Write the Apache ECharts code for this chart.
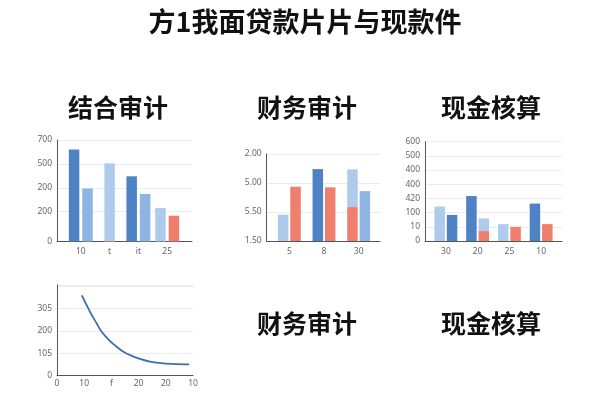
<!DOCTYPE html>
<html><head><meta charset="utf-8">
<script src="https://cdn.jsdelivr.net/npm/echarts@6/dist/echarts.min.js"></script>
<style>html,body{margin:0;padding:0;background:#fff}#c{width:600px;height:400px}</style>
</head><body><div id="c"></div>
<script>
// ---------- data ----------
const mainTitle = '方1我面贷款片片与现款件';
const panelTitles = ['结合审计', '财务审计', '现金核算', '财务审计', '现金核算'];

// Chart 1 (结合审计)
const c1Categories = ['10', 't', 'it', '25'];
const c1TickValues = [0, 1.25, 2.25, 3.25, 4.25];
const c1TickLabels = ['0', '200', '200', '500', '700'];
const c1Left = [3.85, null, 2.73, 1.40];
const c1Right = [2.22, null, 1.99, 1.08];
const c1Center = [null, 3.27, null, null];

// Chart 2 (财务审计)
const c2Categories = ['5', '8', '30'];
const c2TickLabels = ['1.50', '5.50', '5.00', '2.00'];
const c2LeftBase = [0.91, 2.48, 1.17];
const c2LeftTop = [null, null, 1.30];
const c2Right = [1.87, 1.85, 1.72];

// Chart 3 (现金核算)
const c3Categories = ['30', '20', '25', '10'];
const c3TickLabels = ['0', '10', '100', '420', '400', '400', '500', '600'];
const c3Left = [2.43, 3.17, 1.19, 2.64];
const c3RightBase = [1.84, 0.70, 1.00, 1.19];
const c3RightTop = [null, 0.89, null, null];

// Chart 4 (line)
const c4XLabels = ['0', '10', 'f', '20', '20', '10'];
const c4YLabels = ['0', '105', '200', '305'];
const c4X = [0.91, 1.09, 1.28, 1.46, 1.64, 1.95, 2.19, 2.44, 2.75, 3.05, 3.42, 3.91, 4.40, 4.86];
const c4Y = [3.59, 3.15, 2.70, 2.33, 1.96, 1.54, 1.29, 1.06, 0.88, 0.74, 0.62, 0.54, 0.51, 0.50];

// ---------- styles ----------
const LIGHT = '#aecbec', MID = '#8db4e2', DARK = '#4f82c5', RED = '#ef7e6c', LINE = '#3f6ea8';
const c1LeftColors = [DARK, null, DARK, LIGHT];
const c1RightColors = [MID, null, MID, RED];
const c1CenterColors = [null, LIGHT, null, null];
const c2LeftBaseColors = [LIGHT, DARK, RED];
const c2RightColors = [RED, RED, MID];
const c3LeftColors = [LIGHT, DARK, LIGHT, DARK];
const c3RightBaseColors = [DARK, RED, RED, RED];

const FONT = 'Noto Sans';
const CJK = 'Noto Sans CJK SC';
const AXIS_COLOR = '#555';
const GRID_COLOR = '#ececec';
const LABEL_COLOR = '#666';
const LABEL_SIZE = 8.5;

function colored(values, colors) {
  return values.map((v, i) => v == null ? null : { value: v, itemStyle: { color: colors[i] } });
}
function idxFormatter(labels) {
  return function (v) {
    const r = Math.round(v);
    return Math.abs(v - r) < 1e-6 && labels[r] !== undefined ? labels[r] : '';
  };
}

const grids = [
  { left: 57, right: 408, top: 140, bottom: 158.5 },
  { left: 66.4, right: 418.4, top: 140, bottom: 158.5 },
  { left: 266.7, right: 220, top: 154, bottom: 159 },
  { left: 272, right: 224, top: 154, bottom: 159 },
  { left: 425, right: 38, top: 141.7, bottom: 159 },
  { left: 430, right: 43, top: 141.7, bottom: 159 },
  { left: 57, right: 407, top: 285, bottom: 24.5 }
];

const lineAxis = { show: true, lineStyle: { color: AXIS_COLOR, width: 1 } };
function frameX(gi) {
  return { gridIndex: gi, type: 'category', data: [''], axisLine: lineAxis, axisTick: { show: false }, axisLabel: { show: false }, splitLine: { show: false } };
}
function catX(gi, cats, show) {
  return {
    gridIndex: gi, type: 'category', data: cats, show: show !== false,
    axisLine: { show: false }, axisTick: { show: false },
    axisLabel: { color: LABEL_COLOR, fontSize: LABEL_SIZE, fontFamily: FONT, margin: 6 }
  };
}
function hiddenY(gi, max) {
  return { gridIndex: gi, type: 'value', min: 0, max: max, show: false, splitLine: { show: false } };
}

const xAxes = [
  frameX(0),
  catX(1, c1Categories),
  catX(1, c1Categories, false),
  frameX(2),
  catX(3, c2Categories),
  frameX(4),
  catX(5, c3Categories),
  {
    gridIndex: 6, type: 'value', min: 0, max: 5, interval: 1,
    axisLine: lineAxis, axisTick: { show: false }, splitLine: { show: false },
    axisLabel: { color: LABEL_COLOR, fontSize: LABEL_SIZE, fontFamily: FONT, margin: 4, formatter: idxFormatter(c4XLabels) }
  }
];

const yAxes = [
  {
    gridIndex: 0, type: 'value', min: 0, max: 4.25,
    axisLine: lineAxis,
    axisTick: { show: false, customValues: c1TickValues },
    splitLine: { show: true, lineStyle: { color: GRID_COLOR } },
    axisLabel: { customValues: c1TickValues, color: LABEL_COLOR, fontSize: LABEL_SIZE, fontFamily: FONT, margin: 5,
      formatter: v => { const i = c1TickValues.findIndex(t => Math.abs(t - v) < 1e-6); return i >= 0 ? c1TickLabels[i] : ''; } }
  },
  hiddenY(1, 4.25),
  {
    gridIndex: 2, type: 'value', min: 0, max: 3, interval: 1,
    axisLine: lineAxis, axisTick: { show: false },
    splitLine: { show: true, lineStyle: { color: GRID_COLOR } },
    axisLabel: { color: LABEL_COLOR, fontSize: LABEL_SIZE, fontFamily: FONT, margin: 5, formatter: idxFormatter(c2TickLabels) }
  },
  hiddenY(3, 3),
  {
    gridIndex: 4, type: 'value', min: 0, max: 7, interval: 1,
    axisLine: lineAxis, axisTick: { show: false },
    splitLine: { show: true, lineStyle: { color: GRID_COLOR } },
    axisLabel: { color: LABEL_COLOR, fontSize: LABEL_SIZE, fontFamily: FONT, margin: 5, formatter: idxFormatter(c3TickLabels) }
  },
  hiddenY(5, 7),
  {
    gridIndex: 6, type: 'value', min: 0, max: 4.05, interval: 1,
    axisLine: lineAxis, axisTick: { show: false },
    splitLine: { show: true, lineStyle: { color: GRID_COLOR } },
    axisLabel: { color: LABEL_COLOR, fontSize: LABEL_SIZE, fontFamily: FONT, margin: 5, formatter: idxFormatter(c4YLabels) }
  }
];

const BW = 10.5;
const series = [
  { type: 'bar', xAxisIndex: 1, yAxisIndex: 1, data: colored(c1Left, c1LeftColors), barWidth: BW },
  { type: 'bar', xAxisIndex: 1, yAxisIndex: 1, data: colored(c1Right, c1RightColors), barWidth: BW, barGap: '28%' },
  { type: 'bar', xAxisIndex: 2, yAxisIndex: 1, data: colored(c1Center, c1CenterColors), barWidth: BW },
  { type: 'bar', xAxisIndex: 4, yAxisIndex: 3, stack: 'c2L', data: colored(c2LeftBase, c2LeftBaseColors), barWidth: BW },
  { type: 'bar', xAxisIndex: 4, yAxisIndex: 3, stack: 'c2L', data: c2LeftTop, itemStyle: { color: LIGHT }, barWidth: BW },
  { type: 'bar', xAxisIndex: 4, yAxisIndex: 3, data: colored(c2Right, c2RightColors), barWidth: BW, barGap: '18%' },
  { type: 'bar', xAxisIndex: 6, yAxisIndex: 5, data: colored(c3Left, c3LeftColors), barWidth: BW },
  { type: 'bar', xAxisIndex: 6, yAxisIndex: 5, stack: 'c3R', data: colored(c3RightBase, c3RightBaseColors), barWidth: BW },
  { type: 'bar', xAxisIndex: 6, yAxisIndex: 5, stack: 'c3R', data: c3RightTop, itemStyle: { color: LIGHT }, barWidth: BW, barGap: '18%' },
  { type: 'line', xAxisIndex: 7, yAxisIndex: 6, data: c4X.map((x, i) => [x, c4Y[i]]), smooth: 0.3, symbol: 'none',
    lineStyle: { color: LINE, width: 1.8 } }
];

function titleText(text, x, y, size) {
  return { type: 'text', x: x, y: y, silent: true,
    style: { text: text, fontSize: size, fontWeight: 'bold', fontFamily: CJK, fill: '#111', align: 'center', verticalAlign: 'middle' } };
}
const graphic = [
  titleText(mainTitle, 305, 22, 27),
  titleText(panelTitles[0], 118, 107, 25),
  titleText(panelTitles[1], 307, 107, 25),
  titleText(panelTitles[2], 491, 107, 25),
  titleText(panelTitles[3], 307, 323, 25),
  titleText(panelTitles[4], 491, 323, 25)
];

const chart = echarts.init(document.getElementById('c'), null, { renderer: 'canvas' });
chart.setOption({
  backgroundColor: '#fff',
  animation: false,
  grid: grids,
  xAxis: xAxes,
  yAxis: yAxes,
  series: series,
  graphic: graphic
});
</script>
</body></html>
